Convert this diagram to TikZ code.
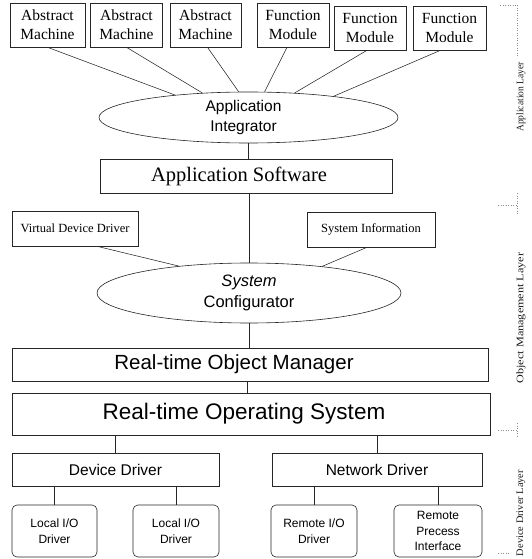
\documentclass[tikz,border=0pt]{standalone}
\usepackage{fontspec}
\setmainfont{Liberation Serif}
\setsansfont{Liberation Sans}
\usetikzlibrary{shapes.geometric,calc}

\tikzset{
  ink/.style={draw=black!85, line width=0.6pt},
  blk/.style={ink, rectangle, inner sep=0pt, align=center},
  rbox/.style={blk, rounded corners=5pt},
  oval/.style={ink, ellipse, inner sep=0pt, align=center},
  wire/.style={black!85, line width=0.55pt},
  guide/.style={black!45, line width=0.5pt, dotted},
  layer/.style={rotate=90, text=black!90, inner sep=0pt,
                font=\fontsize{10}{12}\selectfont},
  topfont/.style={font=\fontsize{15.5}{19}\selectfont},
  smallsans/.style={font=\sffamily\fontsize{12}{15.5}\selectfont},
}

\begin{document}
\begin{tikzpicture}[x=1pt, y=-1pt]
\useasboundingbox (0,0) rectangle (531,559);

% ---- application layer: components
\node[blk, topfont, minimum width=75pt, minimum height=44pt] (b1) at (47.5,25) {Abstract\\Machine};
\node[blk, topfont, minimum width=72pt, minimum height=44pt] (b2) at (126.5,25) {Abstract\\Machine};
\node[blk, topfont, minimum width=71pt, minimum height=44pt] (b3) at (205.5,25) {Abstract\\Machine};
\node[blk, topfont, minimum width=72pt, minimum height=44pt] (b4) at (293,25) {Function\\Module};
\node[blk, topfont, minimum width=72pt, minimum height=44pt] (b5) at (370,28) {Function\\Module};
\node[blk, topfont, minimum width=73pt, minimum height=44pt] (b6) at (449.5,28) {Function\\Module};

\node[oval, minimum width=299pt, minimum height=51pt,
      font=\sffamily\fontsize{15.5}{20}\selectfont] (ai) at (248.5,117.5)
      {Application\hspace*{10pt}\\Integrator\hspace*{10pt}};

\draw[wire] (b1.south) -- (ai.163.6);
\draw[wire] (b2.south) -- (ai.152.3);
\draw[wire] ([xshift=2pt]b3.south) -- (ai.111.6);
\draw[wire] ([xshift=-6pt]b4.south) -- (ai.58.1);
\draw[wire] ([xshift=-3pt]b5.south) -- (ai.28.8);
\draw[wire] ([xshift=-9pt]b6.south) -- (ai.14.1);

\node[blk, minimum width=292pt, minimum height=34pt,
      font=\fontsize{20.5}{24}\selectfont] (as) at (246,176) {Application Software\hspace*{14pt}};
\draw[wire] (ai.south) -- (ai.south |- as.north);

% ---- object management layer
\node[blk, minimum width=126pt, minimum height=35pt,
      font=\fontsize{12.5}{15}\selectfont] (vdd) at (75,228.5) {Virtual Device Driver};
\node[blk, minimum width=128pt, minimum height=35pt,
      font=\fontsize{12.5}{15}\selectfont] (si) at (371,229.5) {System Information};

\node[oval, minimum width=304pt, minimum height=60pt,
      font=\sffamily\fontsize{16.5}{21}\selectfont] (sc) at (249,293) {\textit{System}\\Configurator};

\draw[wire] (sc.north |- as.south) -- (sc.north);
\draw[wire] ([xshift=22pt]vdd.south) -- (sc.159.4);
\draw[wire] ([xshift=-4pt]si.south) -- (sc.20.6);

\node[blk, minimum width=476pt, minimum height=33pt,
      font=\sffamily\fontsize{20.5}{24}\selectfont] (rtom) at (250,364.5) {Real-time Object Manager\hspace*{32pt}};
\draw[wire] (sc.south) -- (sc.south |- rtom.north);

\node[blk, minimum width=478pt, minimum height=42pt,
      font=\sffamily\fontsize{22.5}{26}\selectfont] (rtos) at (251,414) {Real-time Operating System\hspace*{14pt}};
\draw[wire] ([xshift=-3pt]rtom.south) -- ([xshift=-4pt]rtos.north);

% ---- device driver layer
\node[blk, minimum width=207pt, minimum height=33pt,
      font=\sffamily\fontsize{15.5}{19}\selectfont] (dd) at (115.5,469.5) {Device Driver};
\node[blk, minimum width=210pt, minimum height=33pt,
      font=\sffamily\fontsize{15.5}{19}\selectfont] (nd) at (377,469.5) {Network Driver};
\draw[wire] (dd.north |- rtos.south) -- (dd.north);
\draw[wire] (nd.north |- rtos.south) -- (nd.north);

\node[rbox, smallsans, minimum width=85pt, minimum height=52pt] (l1) at (54.5,531) {Local I/O\\Driver};
\node[rbox, smallsans, minimum width=86pt, minimum height=52pt] (l2) at (176,531) {Local I/O\\Driver};
\node[rbox, smallsans, minimum width=86pt, minimum height=52pt] (r1) at (314,531) {Remote I/O\\Driver};
\node[rbox, smallsans, minimum width=88pt, minimum height=52pt] (r2) at (438,531) {Remote\\Precess\\Interface};

\draw[wire] (l1.north |- dd.south) -- (l1.north);
\draw[wire] (l2.north |- dd.south) -- (l2.north);
\draw[wire] (r1.north |- nd.south) -- (r1.north);
\draw[wire] (r2.north |- nd.south) -- (r2.north);

% ---- layer brackets on the right
\draw[guide] (500,5) -- (517,5) -- (517,58);
\draw[guide] (498,205) -- (517,205);
\draw[guide] (517,193) -- (517,215);
\draw[guide] (498,430) -- (517,430);
\draw[guide] (517,423) -- (517,437);
\draw[guide] (498,553) -- (510,553);

\node[layer] (lapp) at (521,97) {\scalebox{0.95}[1]{Application Layer}};
\node[layer] (lobj) at (521,318) {\scalebox{1.22}[1]{Object Management Layer}};
\node[layer] (ldev) at (521,513) {\scalebox{1.04}[1]{Device Driver Layer}};
\end{tikzpicture}
\end{document}
